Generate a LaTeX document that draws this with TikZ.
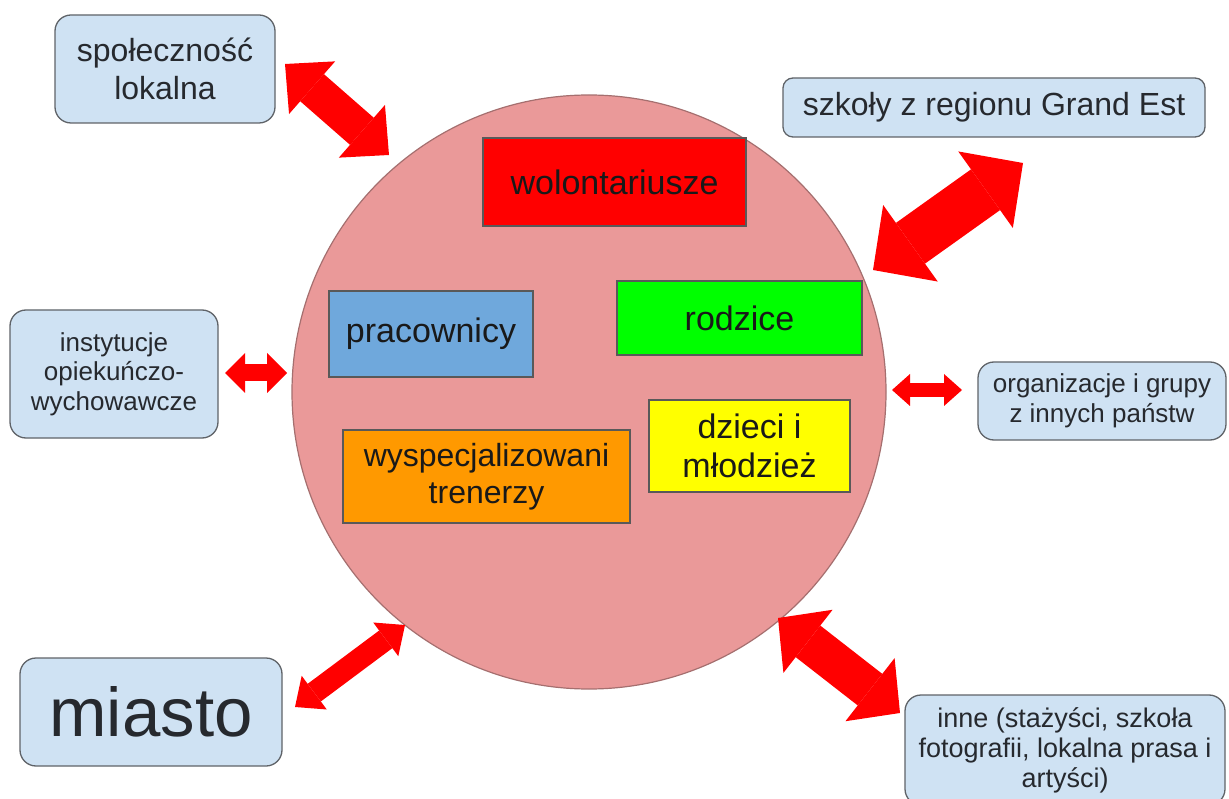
\documentclass[tikz,border=0pt]{standalone}
\usepackage{fontspec}
\setmainfont{Liberation Sans}
\usepackage{tikz}
\usetikzlibrary{arrows.meta}

\definecolor{kolo}{HTML}{EA9999}
\definecolor{kolobrzeg}{HTML}{A56F6F}
\definecolor{jasny}{HTML}{CFE2F3}
\definecolor{ramka}{HTML}{5F6368}
\definecolor{tekst}{HTML}{26292E}
\definecolor{strzalka}{HTML}{FF0000}
\definecolor{nieb}{HTML}{6FA8DC}
\definecolor{ziel}{HTML}{00FF00}
\definecolor{zolty}{HTML}{FFFF00}
\definecolor{pomar}{HTML}{FF9900}

\begin{document}
\begin{tikzpicture}[x=1pt,y=-1pt,
    partnerbox/.style={draw=ramka,fill=jasny,rounded corners=16pt,line width=1.3pt,
      text=tekst,align=center,inner sep=0pt},
    groupbox/.style={draw=black!65,line width=1.1pt,text=black!90,align=center,inner sep=0pt,
      font=\fontsize{34}{39}\selectfont},
    biarrow/.style n args={3}{draw=strzalka,line width=#1,
      {Triangle[length=#2,width=#3,line width=0pt]}-{Triangle[length=#2,width=#3,line width=0pt]}}]
      \useasboundingbox (0,0) rectangle (1229,799);
      % circle in the middle
      \node[circle,draw=kolobrzeg,fill=kolo,line width=1.2pt,minimum size=594pt](krag) at (589,392){};
      % groups inside
      \node[groupbox,fill=strzalka,minimum width=263pt,minimum height=88pt](wol) at (614.5,182){wolontariusze};
      \node[groupbox,fill=nieb,minimum width=204pt,minimum height=86pt](prac) at (431,334){pracownicy};
      \node[groupbox,fill=ziel,minimum width=245pt,minimum height=74pt](rodz) at (739.5,318){rodzice};
      \node[groupbox,fill=zolty,minimum width=201pt,minimum height=92pt](dzieci) at (749.5,446){dzieci i\\młodzież};
      \node[groupbox,fill=pomar,minimum width=287pt,minimum height=93pt,
        font=\fontsize{32}{37}\selectfont](tren) at (486.5,476.5){wyspecjalizowani\\trenerzy};
      % partners around
      \node[partnerbox,minimum width=220pt,minimum height=108pt,
        font=\fontsize{32}{38}\selectfont](spol) at (165,69){społeczność\\lokalna};
      \node[partnerbox,minimum width=422pt,minimum height=59pt,rounded corners=10pt,
        font=\fontsize{32}{38}\selectfont](szk) at (994,107.5){szkoły z regionu Grand Est};
      \node[partnerbox,minimum width=208pt,minimum height=128pt,
        font=\fontsize{26}{29.5}\selectfont](inst) at (114,374){instytucje\\opiekuńczo-\\wychowawcze};
      \node[partnerbox,minimum width=248pt,minimum height=78pt,
        font=\fontsize{26}{30}\selectfont](org) at (1102,401){organizacje i grupy\\z innych państw};
      \node[partnerbox,minimum width=262pt,minimum height=108pt,
        font=\fontsize{69}{80}\selectfont](miasto) at (151,712){miasto};
      \node[partnerbox,minimum width=320pt,minimum height=110pt,
        font=\fontsize{27}{30}\selectfont](inne) at (1065,750){inne (stażyści, szkoła\\fotografii, lokalna prasa i\\artyści)};
      % ends of the arrows
      \coordinate (s1a) at (285,64);
      \coordinate (s1b) at (389,155);
      \coordinate (s2a) at (1023,163);
      \coordinate (s2b) at (873,270);
      \coordinate (s3a) at (225,373);
      \coordinate (s3b) at (287,373);
      \coordinate (s4a) at (892,390);
      \coordinate (s4b) at (962,390);
      \coordinate (s5a) at (295,707);
      \coordinate (s5b) at (405,625);
      \coordinate (s6a) at (778,618);
      \coordinate (s6b) at (900,713);
      \draw[biarrow={36pt}{36pt}{70pt}] (s1a) -- (s1b);
      \draw[biarrow={50pt}{46pt}{94pt}] (s2a) -- (s2b);
      \draw[biarrow={17pt}{20pt}{40pt}] (s3a) -- (s3b);
      \draw[biarrow={14pt}{18pt}{32pt}] (s4a) -- (s4b);
      \draw[biarrow={22pt}{24pt}{42pt}] (s5a) -- (s5b);
      \draw[biarrow={40pt}{38pt}{80pt}] (s6a) -- (s6b);
    \end{tikzpicture}
\end{document}
